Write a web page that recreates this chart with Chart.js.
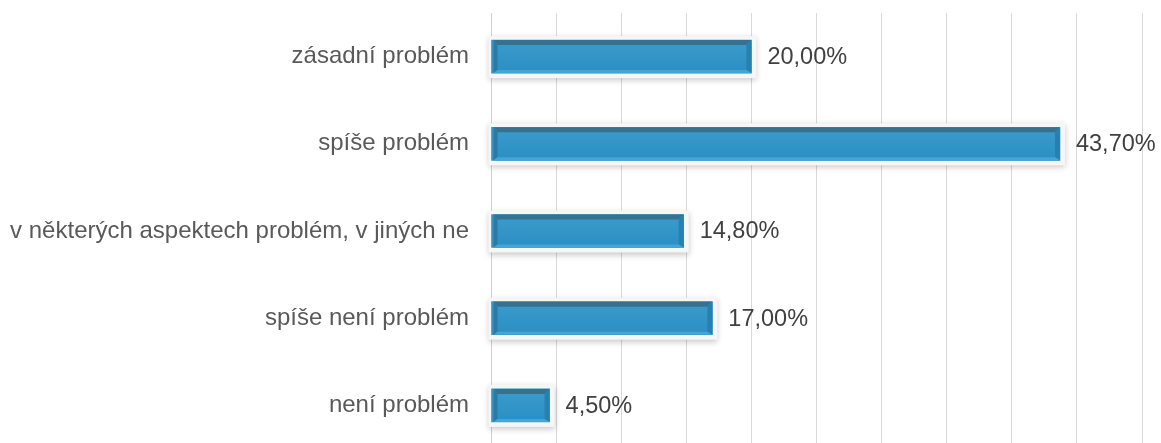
<!DOCTYPE html>
<html>
<head>
<meta charset="utf-8">
<script src="https://cdn.jsdelivr.net/npm/chart.js@4"></script>
<style>
html,body{margin:0;padding:0;background:#fff;overflow:hidden;}
#wrap{position:relative;width:1161px;height:449px;}
</style>
</head>
<body>
<div id="wrap"><canvas id="c"></canvas></div>
<script>
const categories = ["zásadní problém","spíše problém","v některých aspektech problém, v jiných ne","spíše není problém","není problém"];
const values = [20.00, 43.70, 14.80, 17.00, 4.50];
const axisMin = 0, axisMax = 50, axisStep = 5;

const FONT = "'Liberation Sans', Arial, sans-serif";

const bevelPlugin = {
  id: 'bevel',
  beforeDatasetsDraw(chart) {
    const ctx = chart.ctx;
    const meta = chart.getDatasetMeta(0);
    meta.data.forEach(bar => {
      const left = Math.min(bar.base, bar.x), right = Math.max(bar.base, bar.x);
      const top = bar.y - bar.height / 2, h = bar.height;
      ctx.save();
      ctx.shadowColor = 'rgba(0,0,0,0.22)';
      ctx.shadowBlur = 6;
      ctx.shadowOffsetY = 2;
      ctx.fillStyle = '#f6f6f6';
      ctx.fillRect(left - 3, top - 4, right - left + 8, h + 9);
      ctx.restore();
    });
  },
  afterDatasetsDraw(chart) {
    const ctx = chart.ctx;
    const meta = chart.getDatasetMeta(0);
    meta.data.forEach((bar, i) => {
      const l = Math.min(bar.base, bar.x) + 2, r = Math.max(bar.base, bar.x);
      const t = bar.y - bar.height / 2, b = bar.y + bar.height / 2;
      const bt = 5, bl = 4, br = 5, bb = 3;
      ctx.save();
      const g = ctx.createLinearGradient(0, t, 0, b);
      g.addColorStop(0, '#3c9bcb');
      g.addColorStop(1, '#2a8fc4');
      ctx.fillStyle = g;
      ctx.fillRect(l, t, r - l, b - t);
      ctx.fillStyle = '#36728f';
      ctx.beginPath();
      ctx.moveTo(l, t); ctx.lineTo(r, t); ctx.lineTo(r - br, t + bt); ctx.lineTo(l + bl, t + bt); ctx.closePath(); ctx.fill();
      ctx.fillStyle = '#2c7aa4';
      ctx.beginPath();
      ctx.moveTo(l, t); ctx.lineTo(l + bl, t + bt); ctx.lineTo(l + bl, b - bb); ctx.lineTo(l, b); ctx.closePath(); ctx.fill();
      ctx.fillStyle = '#2781ae';
      ctx.beginPath();
      ctx.moveTo(r, t); ctx.lineTo(r, b); ctx.lineTo(r - br, b - bb); ctx.lineTo(r - br, t + bt); ctx.closePath(); ctx.fill();
      ctx.fillStyle = '#45a6d6';
      ctx.beginPath();
      ctx.moveTo(l, b); ctx.lineTo(l + bl, b - bb); ctx.lineTo(r - br, b - bb); ctx.lineTo(r, b); ctx.closePath(); ctx.fill();
      ctx.fillStyle = '#404040';
      ctx.font = '23.5px ' + FONT;
      ctx.textAlign = 'left';
      ctx.textBaseline = 'middle';
      const v = chart.data.datasets[0].data[i];
      ctx.fillText(v.toFixed(2).replace('.', ',') + '%', r + 16, bar.y + 1);
      ctx.restore();
    });
  }
};

new Chart(document.getElementById('c'), {
  type: 'bar',
  data: {
    labels: categories,
    datasets: [{
      data: values,
      backgroundColor: '#3396c8',
      borderWidth: 0,
      barThickness: 33
    }]
  },
  options: {
    indexAxis: 'y',
    responsive: true,
    maintainAspectRatio: false,
    animation: false,
    layout: { padding: { top: 13, right: 19, bottom: 0, left: 0 } },
    plugins: { legend: { display: false }, tooltip: { enabled: false } },
    scales: {
      x: {
        min: axisMin, max: axisMax,
        ticks: { display: false, stepSize: axisStep },
        grid: { color: '#d9d9d9', lineWidth: 1, drawTicks: false },
        border: { display: false }
      },
      y: {
        afterFit(scale) { scale.width = 491; scale.paddingTop = 0; scale.paddingBottom = 0; },
        grid: { display: false, drawTicks: false },
        border: { display: true, color: '#d0d0d0' },
        ticks: { color: '#595959', font: { family: FONT, size: 24 }, padding: 22 }
      }
    }
  },
  plugins: [bevelPlugin]
});
</script>
</body>
</html>
